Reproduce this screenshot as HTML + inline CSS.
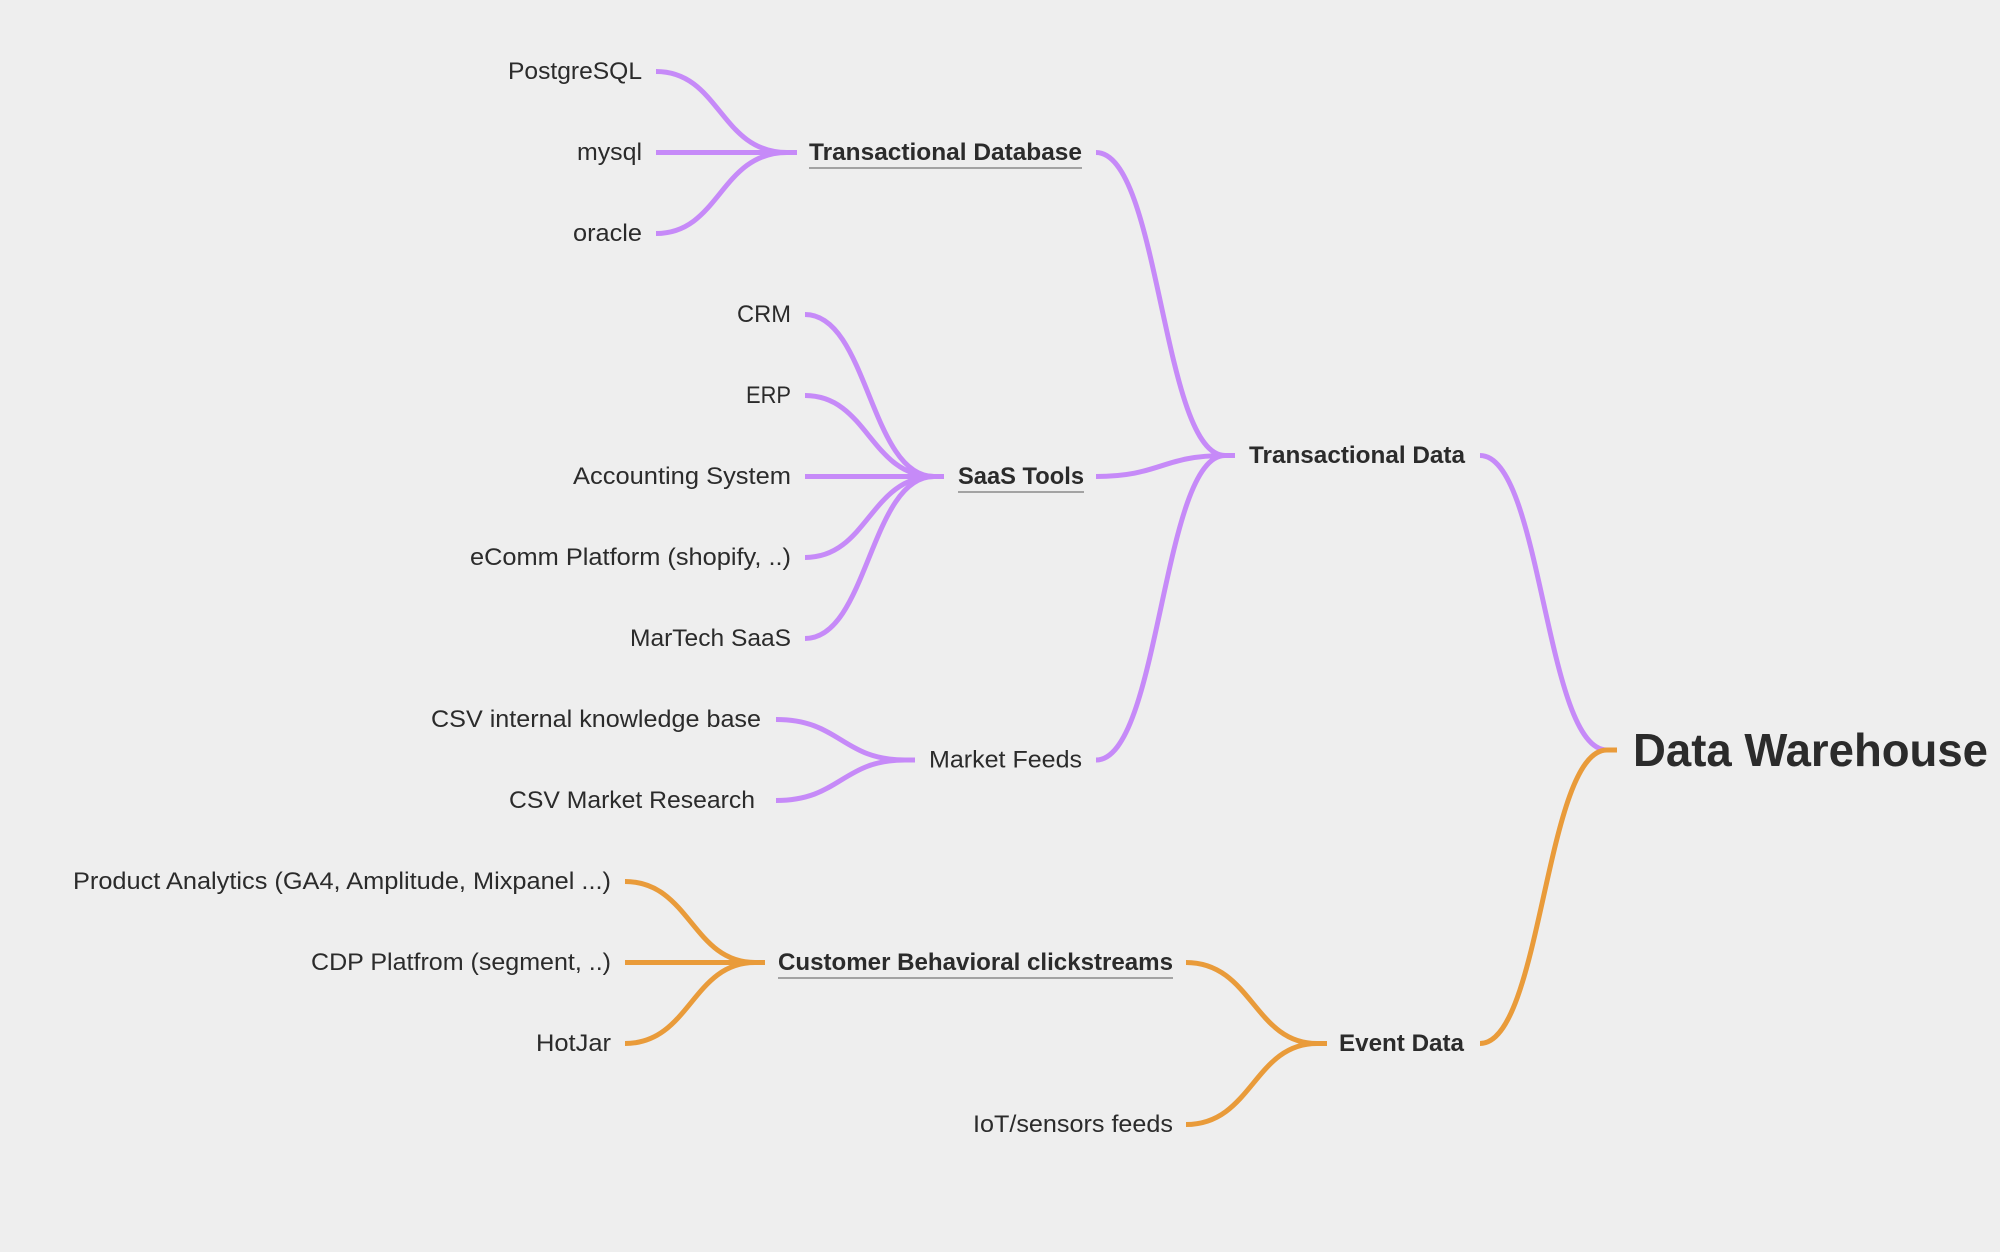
<!DOCTYPE html>
<html><head><meta charset="utf-8"><style>
html,body{margin:0;padding:0;background:#eeeeee;}
svg{display:block;}
text{font-family:"Liberation Sans",sans-serif;fill:#2b2b2b;dominant-baseline:central;}
.r{font-size:24px;}
.b{font-size:24px;font-weight:bold;}
.p{fill:none;stroke:#c68af8;stroke-width:5;stroke-linecap:butt;}
.o{fill:none;stroke:#e99b3a;stroke-width:5;stroke-linecap:butt;}
.u{stroke:#8a8a8a;stroke-width:1.5;}
</style></head><body>
<svg width="2000" height="1252" viewBox="0 0 2000 1252" xmlns="http://www.w3.org/2000/svg">
<rect width="2000" height="1252" fill="#eeeeee"/>
<g class="p">
<path d="M656 71.5 C720 71.5 720 152.5 787 152.5 L797 152.5"/>
<path d="M656 152.5 L797 152.5"/>
<path d="M656 233.5 C720 233.5 720 152.5 787 152.5 L797 152.5"/>
<path d="M805 314.5 C868 314.5 870 476.5 934 476.5 L944 476.5"/>
<path d="M805 395.5 C868 395.5 870 476.5 934 476.5 L944 476.5"/>
<path d="M805 476.5 L944 476.5"/>
<path d="M805 557.5 C868 557.5 870 476.5 934 476.5 L944 476.5"/>
<path d="M805 638.5 C868 638.5 870 476.5 934 476.5 L944 476.5"/>
<path d="M776 719.5 C840 719.5 842 760 905 760 L915 760"/>
<path d="M776 800.5 C840 800.5 842 760 905 760 L915 760"/>
<path d="M1096 152.5 C1160 152.5 1162 455.5 1225 455.5 L1235 455.5"/>
<path d="M1096 476.5 C1160 476.5 1162 455.5 1225 455.5 L1235 455.5"/>
<path d="M1096 760 C1160 760 1162 455.5 1225 455.5 L1235 455.5"/>
<path d="M1480 455.5 C1542 455.5 1545 750 1607 750 L1617 750"/>
</g>
<g class="o">
<path d="M625 881.5 C690 881.5 692 962.5 755 962.5 L765 962.5"/>
<path d="M625 962.5 L765 962.5"/>
<path d="M625 1043.5 C690 1043.5 692 962.5 755 962.5 L765 962.5"/>
<path d="M1186 962.5 C1252 962.5 1254 1043.5 1317 1043.5 L1327 1043.5"/>
<path d="M1186 1124.5 C1252 1124.5 1254 1043.5 1317 1043.5 L1327 1043.5"/>
<path d="M1480 1043.5 C1542 1043.5 1545 750 1607 750 L1617 750"/>
</g>
<g class="r" text-anchor="end">
<text x="642" y="71.5" textLength="134" lengthAdjust="spacingAndGlyphs">PostgreSQL</text>
<text x="642" y="152.5" textLength="65" lengthAdjust="spacingAndGlyphs">mysql</text>
<text x="642" y="233.5" textLength="69" lengthAdjust="spacingAndGlyphs">oracle</text>
<text x="791" y="314.5" textLength="54" lengthAdjust="spacingAndGlyphs">CRM</text>
<text x="791" y="395.5" textLength="45" lengthAdjust="spacingAndGlyphs">ERP</text>
<text x="791" y="476.5" textLength="218" lengthAdjust="spacingAndGlyphs">Accounting System</text>
<text x="791" y="557.5" textLength="321" lengthAdjust="spacingAndGlyphs">eComm Platform (shopify, ..)</text>
<text x="791" y="638.5" textLength="161" lengthAdjust="spacingAndGlyphs">MarTech SaaS</text>
<text x="761" y="719.5" textLength="330" lengthAdjust="spacingAndGlyphs">CSV internal knowledge base</text>
<text x="755" y="800.5" textLength="246" lengthAdjust="spacingAndGlyphs">CSV Market Research</text>
<text x="611" y="881.5" textLength="538" lengthAdjust="spacingAndGlyphs">Product Analytics (GA4, Amplitude, Mixpanel ...)</text>
<text x="611" y="962.5" textLength="300" lengthAdjust="spacingAndGlyphs">CDP Platfrom (segment, ..)</text>
<text x="611" y="1043.5" textLength="75" lengthAdjust="spacingAndGlyphs">HotJar</text>
<text x="1173" y="1124.5" textLength="200" lengthAdjust="spacingAndGlyphs">IoT/sensors feeds</text>
</g>
<text class="r" x="929" y="760" textLength="153" lengthAdjust="spacingAndGlyphs">Market Feeds</text>
<g class="b">
<text x="809" y="152.5" textLength="273" lengthAdjust="spacingAndGlyphs">Transactional Database</text>
<text x="958" y="476.5" textLength="126" lengthAdjust="spacingAndGlyphs">SaaS Tools</text>
<text x="1249" y="455.5" textLength="216" lengthAdjust="spacingAndGlyphs">Transactional Data</text>
<text x="778" y="962.5" textLength="395" lengthAdjust="spacingAndGlyphs">Customer Behavioral clickstreams</text>
<text x="1339" y="1043.5" textLength="125" lengthAdjust="spacingAndGlyphs">Event Data</text>
</g>
<line class="u" x1="809" y1="168" x2="1082" y2="168"/>
<line class="u" x1="958" y1="492" x2="1084" y2="492"/>
<line class="u" x1="778" y1="978" x2="1173" y2="978"/>
<text x="1633" y="750" style="font-size:46px;font-weight:bold" textLength="355" lengthAdjust="spacingAndGlyphs">Data Warehouse</text>
</svg>
</body></html>
